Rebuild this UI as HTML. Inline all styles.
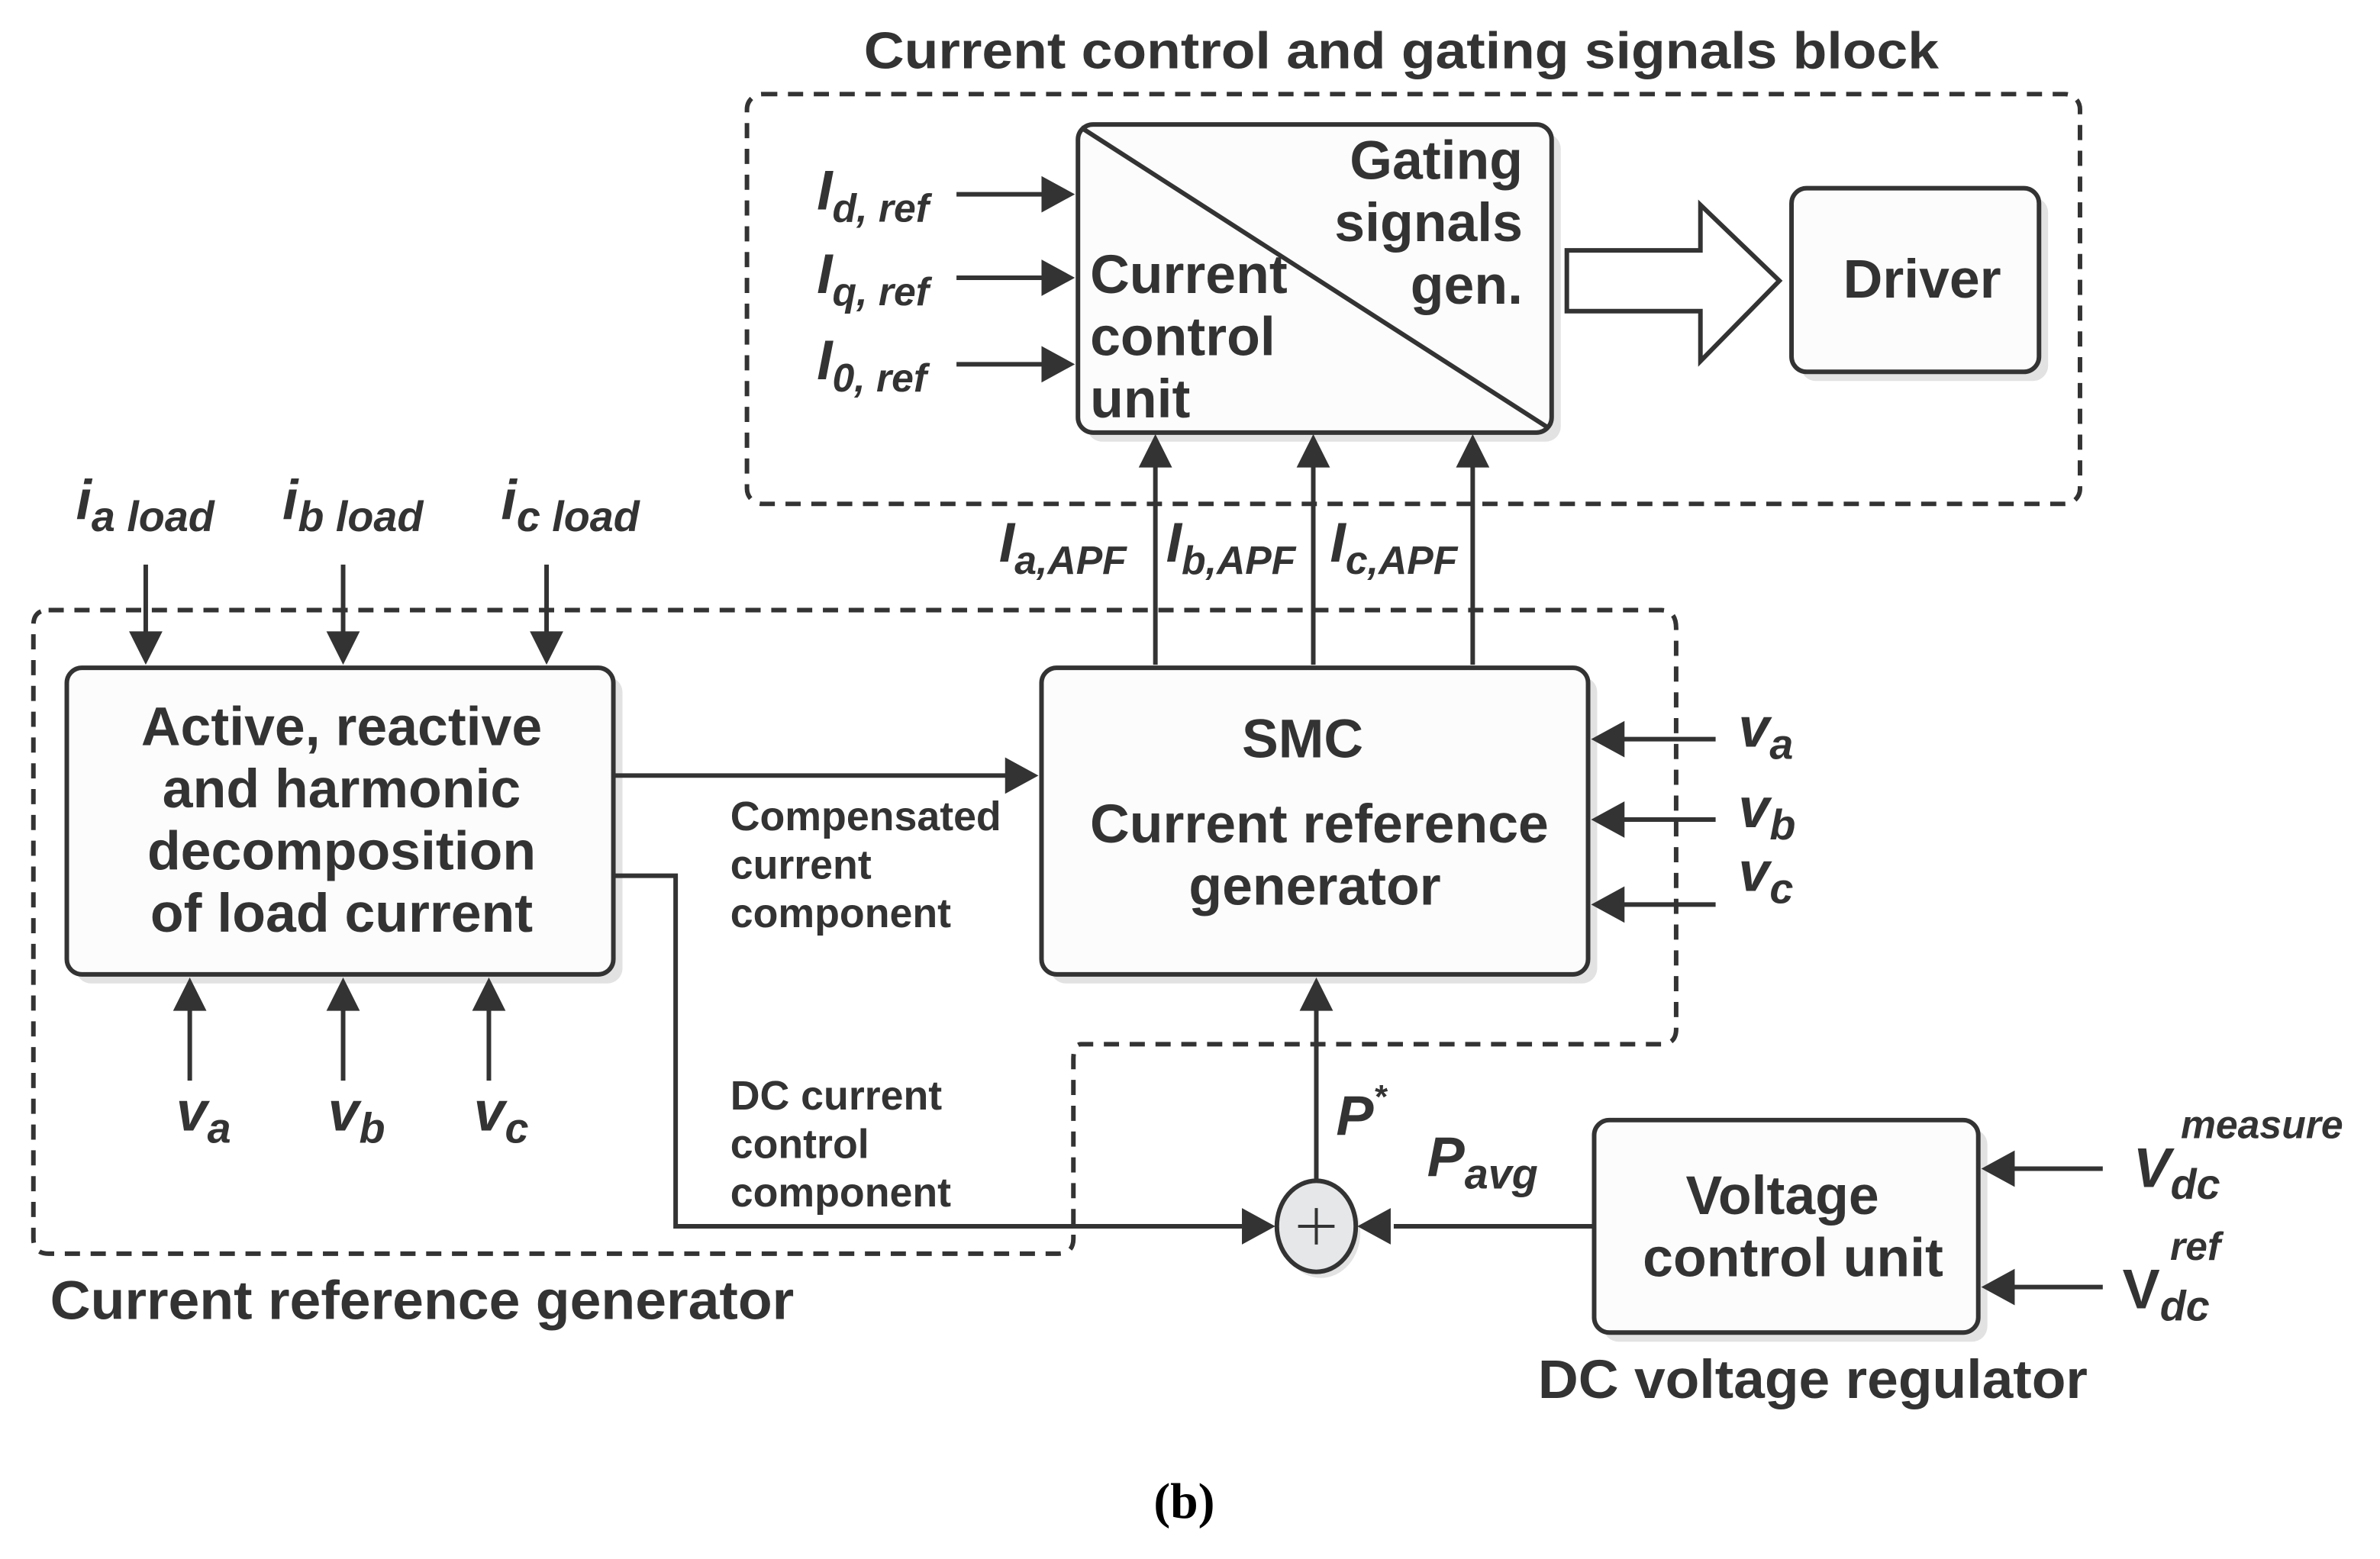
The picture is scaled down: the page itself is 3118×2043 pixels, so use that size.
<!DOCTYPE html>
<html><head><meta charset="utf-8"><style>
html,body{margin:0;padding:0;background:#fff}
svg{display:block}
text{font-family:"Liberation Sans Narrow","Liberation Sans",sans-serif;font-weight:bold;fill:#333}
.i{font-style:italic}
</style></head><body>
<svg width="3118" height="2043" viewBox="0 0 1567.6 1027.2" preserveAspectRatio="none" xmlns="http://www.w3.org/2000/svg">
<g fill="none" stroke="#333" stroke-width="3" stroke-dasharray="10,7">
<rect x="492" y="62" width="878" height="270" rx="10"/>
<path d="M32 402 H1094 Q1104 402 1104 414 V678 Q1104 688 1094 688 H712 Q707 688 707 698 V816 Q707 826 697 826 H32 Q22 826 22 816 V412 Q22 402 32 402 Z"/>
</g>
<text x="923" y="45" font-size="34" text-anchor="middle" textLength="708" lengthAdjust="spacingAndGlyphs">Current control and gating signals block</text>
<g fill="#e2e2e2">
<rect x="716" y="88" width="312" height="203" rx="10"/>
<rect x="1186" y="130" width="163" height="121" rx="10"/>
<rect x="50" y="446" width="360" height="202" rx="10"/>
<rect x="692" y="446" width="360" height="202" rx="10"/>
<rect x="1056" y="744" width="253" height="140" rx="10"/>
<ellipse cx="870" cy="812" rx="26" ry="30"/>
</g>
<g fill="#fcfcfc" stroke="#333" stroke-width="3">
<rect x="710" y="82" width="312" height="203" rx="10"/>
<rect x="1180" y="124" width="163" height="121" rx="10"/>
<rect x="44" y="440" width="360" height="202" rx="10"/>
<rect x="686" y="440" width="360" height="202" rx="10"/>
<rect x="1050" y="738" width="253" height="140" rx="10"/>
<ellipse cx="867" cy="808" rx="26" ry="30" fill="#e6e7e8"/>
<path d="M1032 165 H1120 V135 L1172 185 L1120 238 V205 H1032 Z" fill="#fff"/>
</g>
<line x1="712" y1="84" x2="1020" y2="282" stroke="#333" stroke-width="3"/>
<path d="M855 808 H879 M867 796 V820" stroke="#333" stroke-width="2"/>
<g stroke="#333" stroke-width="3" fill="none">
<path d="M630 128 H690 M630 183 H690 M630 240 H690"/>
<path d="M761 438 V305 M865 438 V305 M970 438 V305"/>
<path d="M96 372 V418 M226 372 V418 M360 372 V418"/>
<path d="M125 712 V664 M226 712 V664 M322 712 V664"/>
<path d="M404 511 H664"/>
<path d="M404 577 H445 V808 H818"/>
<path d="M867 778 V664"/>
<path d="M1050 808 H918"/>
<path d="M1130 487 H1068 M1130 540 H1068 M1130 596 H1068"/>
<path d="M1385 770 H1325 M1385 848 H1325"/>
</g>
<g fill="#333">
<path d="M708 128 l-22 -12 v24z M708 183 l-22 -12 v24z M708 240 l-22 -12 v24z"/>
<path d="M761 286 l-11 22 h22z M865 286 l-11 22 h22z M970 286 l-11 22 h22z"/>
<path d="M96 438 l-11 -22 h22z M226 438 l-11 -22 h22z M360 438 l-11 -22 h22z"/>
<path d="M125 644 l-11 22 h22z M226 644 l-11 22 h22z M322 644 l-11 22 h22z"/>
<path d="M684 511 l-22 -12 v24z"/>
<path d="M840 808 l-22 -12 v24z"/>
<path d="M867 644 l-11 22 h22z"/>
<path d="M894 808 l22 -12 v24z"/>
<path d="M1048 487 l22 -12 v24z M1048 540 l22 -12 v24z M1048 596 l22 -12 v24z"/>
<path d="M1305 770 l22 -12 v24z M1305 848 l22 -12 v24z"/>
</g>
<g font-size="36">
<text x="1003" y="118" text-anchor="end">Gating</text>
<text x="1003" y="159" text-anchor="end">signals</text>
<text x="1003" y="200" text-anchor="end">gen.</text>
<text x="718" y="193">Current</text>
<text x="718" y="234">control</text>
<text x="718" y="275">unit</text>
<text x="1266" y="196" text-anchor="middle">Driver</text>
<text x="225" y="491" text-anchor="middle">Active, reactive</text>
<text x="225" y="532" text-anchor="middle">and harmonic</text>
<text x="225" y="573" text-anchor="middle">decomposition</text>
<text x="225" y="614" text-anchor="middle">of load current</text>
<text x="858" y="499" text-anchor="middle">SMC</text>
<text x="869" y="555" text-anchor="middle">Current reference</text>
<text x="866" y="596" text-anchor="middle">generator</text>
<text x="1174" y="800" text-anchor="middle">Voltage</text>
<text x="1181" y="841" text-anchor="middle">control unit</text>
<text x="33" y="869" textLength="490" lengthAdjust="spacingAndGlyphs">Current reference generator</text>
<text x="1013" y="921" textLength="362" lengthAdjust="spacingAndGlyphs">DC voltage regulator</text>
</g>
<g font-size="27">
<text x="481" y="547">Compensated</text>
<text x="481" y="579">current</text>
<text x="481" y="611">component</text>
<text x="481" y="731">DC current</text>
<text x="481" y="763">control</text>
<text x="481" y="795">component</text>
</g>
<g class="i" font-size="37">
<text x="538" y="138" class="i">I<tspan font-size="26" dy="8">d, ref</tspan></text>
<text x="538" y="193" class="i">I<tspan font-size="26" dy="8">q, ref</tspan></text>
<text x="538" y="250" class="i">I<tspan font-size="26" dy="8">0, ref</tspan></text>
<text x="658" y="370" class="i">I<tspan font-size="26" dy="8">a,APF</tspan></text>
<text x="768" y="370" class="i">I<tspan font-size="26" dy="8">b,APF</tspan></text>
<text x="876" y="370" class="i">I<tspan font-size="26" dy="8">c,APF</tspan></text>
<text x="50" y="342" class="i">i<tspan font-size="28" dy="8">a load</tspan></text>
<text x="186" y="342" class="i">i<tspan font-size="28" dy="8">b load</tspan></text>
<text x="330" y="342" class="i">i<tspan font-size="28" dy="8">c load</tspan></text>
<text x="116" y="745" class="i">v<tspan font-size="28" dy="8">a</tspan></text>
<text x="216" y="745" class="i">v<tspan font-size="28" dy="8">b</tspan></text>
<text x="312" y="745" class="i">v<tspan font-size="28" dy="8">c</tspan></text>
<text x="1145" y="492" class="i">v<tspan font-size="28" dy="8">a</tspan></text>
<text x="1145" y="545" class="i">v<tspan font-size="28" dy="8">b</tspan></text>
<text x="1145" y="587" class="i">v<tspan font-size="28" dy="8">c</tspan></text>
<text x="880" y="748" class="i">P<tspan font-size="22" dy="-18">*</tspan></text>
<text x="940" y="775" class="i">P<tspan font-size="28" dy="8">avg</tspan></text>
<text x="1405" y="782" class="i">V<tspan font-size="28" dy="8">dc</tspan><tspan font-size="26" dx="-26" dy="-40">measure</tspan></text>
<text x="1398" y="862" font-style="normal">V<tspan font-size="28" dy="8" font-style="italic">dc</tspan><tspan font-size="26" dx="-26" dy="-40" font-style="italic">ref</tspan></text>
</g>
<text x="780" y="1000" font-size="33" text-anchor="middle" style="font-family:'Liberation Serif',serif;fill:#000">(b)</text>
</svg>
</body></html>
